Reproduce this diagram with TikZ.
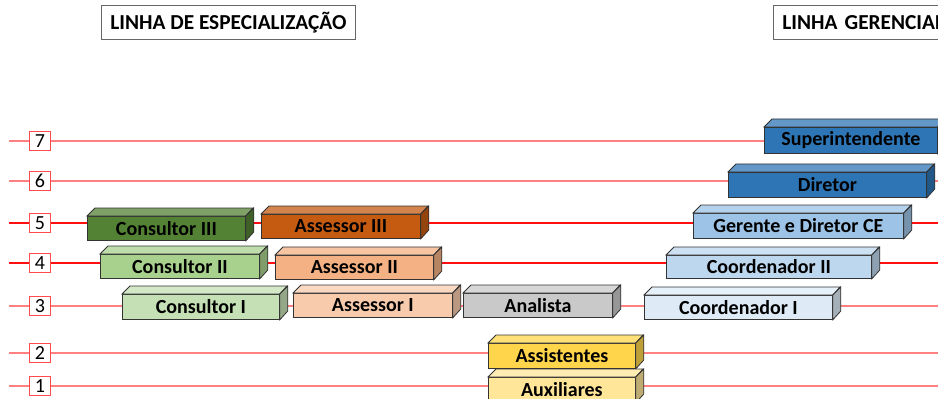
\documentclass[tikz,border=0pt]{standalone}
\usepackage{fontspec}
\setmainfont{Carlito}
\definecolor{verdeIII}{HTML}{548235}
\definecolor{verdeII}{HTML}{A9D18E}
\definecolor{verdeI}{HTML}{C5E0B4}
\definecolor{laranjaIII}{HTML}{C55A11}
\definecolor{laranjaII}{HTML}{F4B183}
\definecolor{laranjaI}{HTML}{F8CBAD}
\definecolor{cinza}{HTML}{C9C9C9}
\definecolor{ouro}{HTML}{FFD54B}
\definecolor{ouroclaro}{HTML}{FFE699}
\definecolor{azulescuro}{HTML}{2E75B6}
\definecolor{azulmedio}{HTML}{9DC3E6}
\definecolor{azulII}{HTML}{BDD7EE}
\definecolor{azulI}{HTML}{DEEBF7}
\definecolor{vermelho}{HTML}{FF1010}
\begin{document}
\begin{tikzpicture}[x=0.75pt,y=-0.75pt,
    cargo/.style={draw=black!80,line width=0.6pt,anchor=north west,inner sep=0pt,
      font=\fontsize{15}{18}\selectfont\bfseries},
    nivel/.style={draw=red!70,fill=white,line width=0.8pt,minimum width=15.5pt,
      minimum height=14pt,inner sep=0pt,font=\fontsize{15}{18}\selectfont},
    titulo/.style={draw=black!60,line width=0.6pt,anchor=north west,inner sep=0pt,
      minimum height=25.5pt,font=\fontsize{16}{19}\selectfont\bfseries},
    forte/.style={draw=vermelho,line width=1pt},
    fraca/.style={draw=red!50,line width=1.1pt}]
  \useasboundingbox (0,0) rectangle (938,399);
  \clip (0,0) rectangle (938,399);

  % titulos
  \node[titulo,minimum width=190.5pt] (espec) at (101,5) {LINHA DE ESPECIALIZAÇÃO};
  \node[titulo,text width=200pt,align=left,inner xsep=6.75pt] (geren) at (773,5) {LINHA GERENCIAL};

  % niveis
  \foreach \k/\y/\s in {7/141/fraca,6/181/fraca,5/223/forte,4/263/forte,3/306/fraca,2/353/fraca,1/386/fraca}
  {
    \coordinate (w\k) at (9,\y);
    \coordinate (e\k) at (938,\y);
    \draw[\s] (w\k) -- (e\k);
    \node[nivel] (n\k) at (40,\y) {\k};
  }

  % cargos
  \foreach \n/\x/\y/\w/\h/\c/\t in {
      super/764/127/173/26/azulescuro/Superintendente,
      dir/728/172/198/25/azulescuro/Diretor,
      consIII/87/216/158/24/verdeIII/Consultor III,
      assIII/261/214/159/24/laranjaIII/Assessor III,
      ger/693/213/210/25/azulmedio/Gerente e Diretor CE,
      consII/100/254/159/24/verdeII/Consultor II,
      assII/275/255/158/24/laranjaII/Assessor II,
      coordII/666/255/205/23/azulII/Coordenador II,
      consI/122/294/157/25/verdeI/Consultor I,
      assI/293/293/159/24/laranjaI/Assessor I,
      anal/463/293/149/24/cinza/Analista,
      coordI/644/295/188/24/azulI/Coordenador I,
      assist/488/343/147/25/ouro/Assistentes,
      aux/488/377/147/25/ouroclaro/Auxiliares}
  {
    \node[cargo,fill=\c,minimum width=\w*0.75pt,minimum height=\h*0.75pt] (\n) at (\x,\y) {\t};
    \filldraw[draw=black!80,line width=0.6pt,fill=\c!75!white]
      (\n.north west) -- ++(8,-8) -- ++(\w,0) -- (\n.north east) -- cycle;
    \filldraw[draw=black!80,line width=0.6pt,fill=\c!75!black]
      (\n.north east) -- ++(8,-8) -- ++(0,\h) -- (\n.south east) -- cycle;
  }
\end{tikzpicture}
\end{document}
